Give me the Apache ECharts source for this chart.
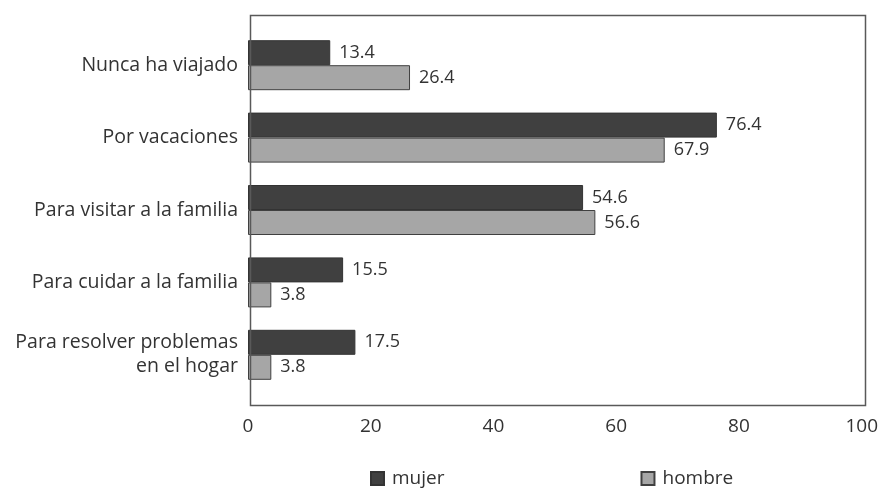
<!DOCTYPE html>
<html><head><meta charset="utf-8">
<script src="https://cdn.jsdelivr.net/npm/echarts@6/dist/echarts.min.js"></script>
<style>html,body{margin:0;padding:0;background:#fff}#c{width:881px;height:492px}</style>
</head><body><div id="c"></div>
<script>
const categories = ["Nunca ha viajado", "Por vacaciones", "Para visitar a la familia", "Para cuidar a la familia", "Para resolver problemas\nen el hogar"];
const mujer = [13.4, 76.4, 54.6, 15.5, 17.5];
const hombre = [26.4, 67.9, 56.6, 3.8, 3.8];
const xTicks = [0, 20, 40, 60, 80, 100];

const font = '"Open Sans", "Noto Sans", sans-serif';
const chart = echarts.init(document.getElementById('c'), null, {renderer: 'canvas'});
chart.setOption({
  animation: false,
  backgroundColor: '#fff',
  textStyle: {fontFamily: font},
  grid: {left: 248, right: 19, top: 29, bottom: 101},
  graphic: [{
    type: 'rect', left: 248, top: 13, z: 100, silent: true,
    shape: {width: 615, height: 390},
    style: {fill: 'none', stroke: '#595959', lineWidth: 1.5}
  }],
  legend: {
    top: 464, left: 365, itemGap: 196, itemWidth: 13, itemHeight: 13,
    icon: 'rect',
    textStyle: {fontSize: 19, color: '#333', fontFamily: font, padding: [0, 0, 0, 3]},
    data: ['mujer', 'hombre']
  },
  xAxis: {
    type: 'value', min: 0, max: 100, interval: 20,
    axisLine: {show: false}, axisTick: {show: false}, splitLine: {show: false},
    axisLabel: {fontSize: 19, color: '#333', margin: 26, fontFamily: font,
      formatter: v => xTicks.includes(v) ? String(v) : ''}
  },
  yAxis: {
    type: 'category', data: categories, inverse: true,
    axisLine: {show: false}, axisTick: {show: false},
    axisLabel: {fontSize: 19.5, color: '#333', margin: 10, align: 'right', lineHeight: 24, fontFamily: font}
  },
  series: [
    {name: 'mujer', type: 'bar', data: mujer, barWidth: 25, barGap: '0%',
     itemStyle: {color: '#404040', borderColor: '#333', borderWidth: 1},
     label: {show: true, position: 'right', distance: 9, fontSize: 18, color: '#333', fontFamily: font}},
    {name: 'hombre', type: 'bar', data: hombre, barWidth: 25, barGap: '0%',
     itemStyle: {color: '#a6a6a6', borderColor: '#404040', borderWidth: 1},
     label: {show: true, position: 'right', distance: 9, fontSize: 18, color: '#333', fontFamily: font}}
  ]
});
</script></body></html>
